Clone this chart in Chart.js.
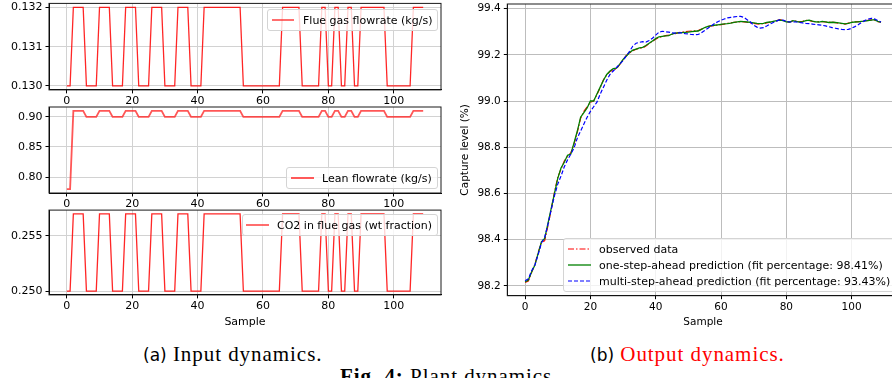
<!DOCTYPE html>
<html>
<head>
<meta charset="utf-8">
<script src="https://cdn.jsdelivr.net/npm/chart.js@4.4.1/dist/chart.umd.min.js"></script>
<style>
  body { margin: 0; width: 892px; height: 378px; overflow: hidden; position: relative; background: #fff; font-family: "DejaVu Sans", sans-serif; }
  .box { position: absolute; }
  .leg { position: absolute; background: rgba(255,255,255,0.8); border: 1px solid #d4d4d4; border-radius: 3px; color: #000; white-space: nowrap; }
  .leg .row { display: flex; align-items: center; height: 16px; }
  .leg svg { flex: none; }
  .cap { position: absolute; font-family: "Liberation Serif", serif; font-size: 21px; letter-spacing: 0.95px; white-space: nowrap; }
  .cap .lab { font-family: "DejaVu Sans", sans-serif; font-size: 17px; letter-spacing: 0; }
</style>
</head>
<body>
<div class="box" style="left:0;top:0;width:450px;height:110px"><canvas id="c1"></canvas></div>
<div class="box" style="left:0;top:100px;width:450px;height:110px"><canvas id="c2"></canvas></div>
<div class="box" style="left:0;top:200px;width:450px;height:130px"><canvas id="c3"></canvas></div>
<div class="box" style="left:450px;top:0;width:460px;height:330px"><canvas id="c4"></canvas></div>

<div class="leg" style="left:267px;top:9px;padding:1px 5px 1px 4px;font-size:11px">
  <div class="row" style="height:18px"><svg width="22" height="10" style="margin-right:9px"><line x1="0" y1="5" x2="22" y2="5" stroke="#ff2020" stroke-width="1.3"/></svg>Flue gas flowrate (kg/s)</div>
</div>
<div class="leg" style="left:286px;top:167px;padding:1px 5px 1px 4px;font-size:11px">
  <div class="row" style="height:18px"><svg width="23" height="10" style="margin-right:8px"><line x1="0" y1="5" x2="23" y2="5" stroke="#ff4848" stroke-width="1.8"/></svg>Lean flowrate (kg/s)</div>
</div>
<div class="leg" style="left:242px;top:214px;padding:1px 5px 1px 3px;font-size:11px">
  <div class="row" style="height:18px"><svg width="23" height="10" style="margin-right:8px"><line x1="0" y1="5" x2="23" y2="5" stroke="#ff2020" stroke-width="1.3"/></svg>CO2 in flue gas (wt fraction)</div>
</div>
<div class="leg" style="left:563px;top:238px;padding:2px 6px 2px 4px;font-size:11px">
  <div class="row"><svg width="23" height="10" style="margin-right:8px"><line x1="0" y1="5" x2="23" y2="5" stroke="#ff0000" stroke-width="1.2" stroke-dasharray="6 2 1.5 2"/></svg>observed data</div>
  <div class="row"><svg width="23" height="10" style="margin-right:8px"><line x1="0" y1="5" x2="23" y2="5" stroke="#008000" stroke-width="1.3"/></svg>one-step-ahead prediction (fit percentage: 98.41%)</div>
  <div class="row"><svg width="23" height="10" style="margin-right:8px"><line x1="0" y1="5" x2="23" y2="5" stroke="#0000ff" stroke-width="1.2" stroke-dasharray="4 2"/></svg>multi-step-ahead prediction (fit percentage: 93.43%)</div>
</div>

<div class="cap" style="left:143px;top:342px"><span class="lab">(a)</span> Input dynamics.</div>
<div class="cap" style="left:590px;top:342px"><span class="lab">(b)</span> <span style="color:#ff0000">Output dynamics.</span></div>
<div class="cap" style="left:340px;top:364px"><b>Fig. 4:</b> Plant dynamics</div>

<script>
// sample index (x axis)
const samples = Array.from({ length: 110 }, (_, i) => i);

// input signals
const flueGas = [
  0.130, 0.130, 0.132, 0.132, 0.132, 0.132, 0.130, 0.130, 0.130, 0.130,
  0.132, 0.132, 0.132, 0.132, 0.130, 0.130, 0.130, 0.130, 0.132, 0.132,
  0.132, 0.132, 0.130, 0.130, 0.130, 0.130, 0.132, 0.132, 0.132, 0.132,
  0.130, 0.130, 0.130, 0.130, 0.132, 0.132, 0.132, 0.132, 0.130, 0.130,
  0.130, 0.130, 0.132, 0.132, 0.132, 0.132, 0.132, 0.132, 0.132, 0.132,
  0.132, 0.132, 0.132, 0.132, 0.130, 0.130, 0.130, 0.130, 0.130, 0.130,
  0.130, 0.130, 0.130, 0.130, 0.130, 0.130, 0.132, 0.132, 0.132, 0.132,
  0.132, 0.132, 0.130, 0.130, 0.130, 0.130, 0.130, 0.130, 0.132, 0.132,
  0.130, 0.130, 0.132, 0.132, 0.130, 0.130, 0.132, 0.132, 0.130, 0.130,
  0.132, 0.132, 0.132, 0.132, 0.132, 0.132, 0.132, 0.132, 0.130, 0.130,
  0.130, 0.130, 0.130, 0.130, 0.130, 0.130, 0.132, 0.132, 0.132, 0.132
];
const leanFlow = [
  0.78, 0.78, 0.91, 0.91, 0.91, 0.91, 0.90, 0.90, 0.90, 0.90,
  0.91, 0.91, 0.91, 0.91, 0.90, 0.90, 0.90, 0.90, 0.91, 0.91,
  0.91, 0.91, 0.90, 0.90, 0.90, 0.90, 0.91, 0.91, 0.91, 0.91,
  0.90, 0.90, 0.90, 0.90, 0.91, 0.91, 0.91, 0.91, 0.90, 0.90,
  0.90, 0.90, 0.91, 0.91, 0.91, 0.91, 0.91, 0.91, 0.91, 0.91,
  0.91, 0.91, 0.91, 0.91, 0.90, 0.90, 0.90, 0.90, 0.90, 0.90,
  0.90, 0.90, 0.90, 0.90, 0.90, 0.90, 0.91, 0.91, 0.91, 0.91,
  0.91, 0.91, 0.90, 0.90, 0.90, 0.90, 0.90, 0.90, 0.91, 0.91,
  0.90, 0.90, 0.91, 0.91, 0.90, 0.90, 0.91, 0.91, 0.90, 0.90,
  0.91, 0.91, 0.91, 0.91, 0.91, 0.91, 0.91, 0.91, 0.90, 0.90,
  0.90, 0.90, 0.90, 0.90, 0.90, 0.90, 0.91, 0.91, 0.91, 0.91
];
const co2Frac = [
  0.250, 0.250, 0.257, 0.257, 0.257, 0.257, 0.250, 0.250, 0.250, 0.250,
  0.257, 0.257, 0.257, 0.257, 0.250, 0.250, 0.250, 0.250, 0.257, 0.257,
  0.257, 0.257, 0.250, 0.250, 0.250, 0.250, 0.257, 0.257, 0.257, 0.257,
  0.250, 0.250, 0.250, 0.250, 0.257, 0.257, 0.257, 0.257, 0.250, 0.250,
  0.250, 0.250, 0.257, 0.257, 0.257, 0.257, 0.257, 0.257, 0.257, 0.257,
  0.257, 0.257, 0.257, 0.257, 0.250, 0.250, 0.250, 0.250, 0.250, 0.250,
  0.250, 0.250, 0.250, 0.250, 0.250, 0.250, 0.257, 0.257, 0.257, 0.257,
  0.257, 0.257, 0.250, 0.250, 0.250, 0.250, 0.250, 0.250, 0.257, 0.257,
  0.250, 0.250, 0.257, 0.257, 0.250, 0.250, 0.257, 0.257, 0.250, 0.250,
  0.257, 0.257, 0.257, 0.257, 0.257, 0.257, 0.257, 0.257, 0.250, 0.250,
  0.250, 0.250, 0.250, 0.250, 0.250, 0.250, 0.257, 0.257, 0.257, 0.257
];

// capture level (%)
const observed = [
  98.214, 98.220, 98.258, 98.292, 98.345, 98.385, 98.395, 98.460, 98.530, 98.605,
  98.670, 98.705, 98.740, 98.760, 98.775, 98.815, 98.865, 98.925, 98.955, 98.975,
  98.995, 99.000, 99.028, 99.058, 99.092, 99.112, 99.128, 99.135, 99.140, 99.158,
  99.178, 99.197, 99.208, 99.218, 99.224, 99.228, 99.230, 99.238, 99.249, 99.258,
  99.268, 99.276, 99.279, 99.283, 99.285, 99.289, 99.292, 99.296, 99.298, 99.300,
  99.302, 99.303, 99.304, 99.305, 99.311, 99.317, 99.322, 99.325, 99.327, 99.329,
  99.331, 99.333, 99.336, 99.338, 99.341, 99.342, 99.344, 99.343, 99.341, 99.338,
  99.336, 99.334, 99.333, 99.335, 99.338, 99.341, 99.344, 99.347, 99.352, 99.350,
  99.344, 99.341, 99.347, 99.346, 99.343, 99.345, 99.349, 99.348, 99.345, 99.344,
  99.343, 99.344, 99.342, 99.341, 99.342, 99.339, 99.337, 99.335, 99.333, 99.337,
  99.341, 99.343, 99.344, 99.344, 99.347, 99.349, 99.351, 99.350, 99.344, 99.341
];
const oneStep = [
  98.217, 98.225, 98.260, 98.290, 98.340, 98.390, 98.405, 98.470, 98.535, 98.600,
  98.665, 98.710, 98.735, 98.765, 98.770, 98.820, 98.870, 98.930, 98.950, 98.970,
  99.000, 99.000, 99.030, 99.060, 99.090, 99.115, 99.130, 99.140, 99.142, 99.160,
  99.180, 99.195, 99.210, 99.220, 99.225, 99.230, 99.232, 99.240, 99.250, 99.260,
  99.270, 99.278, 99.280, 99.282, 99.283, 99.290, 99.294, 99.295, 99.296, 99.297,
  99.298, 99.300, 99.302, 99.303, 99.310, 99.318, 99.323, 99.326, 99.328, 99.330,
  99.332, 99.334, 99.335, 99.337, 99.340, 99.343, 99.345, 99.344, 99.342, 99.340,
  99.338, 99.336, 99.335, 99.336, 99.340, 99.342, 99.345, 99.348, 99.350, 99.348,
  99.343, 99.342, 99.348, 99.345, 99.342, 99.344, 99.348, 99.350, 99.346, 99.343,
  99.342, 99.345, 99.343, 99.340, 99.341, 99.340, 99.338, 99.336, 99.334, 99.336,
  99.340, 99.342, 99.343, 99.345, 99.346, 99.348, 99.350, 99.352, 99.345, 99.342
];
const multiStep = [
  98.222, 98.230, 98.265, 98.290, 98.335, 98.385, 98.410, 98.465, 98.530, 98.590,
  98.640, 98.675, 98.715, 98.745, 98.770, 98.797, 98.840, 98.870, 98.900, 98.930,
  98.955, 98.975, 98.995, 99.030, 99.060, 99.090, 99.115, 99.130, 99.145, 99.160,
  99.175, 99.196, 99.215, 99.238, 99.250, 99.254, 99.257, 99.255, 99.262, 99.272,
  99.285, 99.298, 99.302, 99.300, 99.298, 99.295, 99.294, 99.295, 99.295, 99.292,
  99.290, 99.288, 99.287, 99.288, 99.295, 99.305, 99.315, 99.325, 99.335, 99.343,
  99.350, 99.355, 99.360, 99.362, 99.364, 99.366, 99.366, 99.362, 99.352, 99.342,
  99.328, 99.320, 99.316, 99.318, 99.325, 99.333, 99.340, 99.346, 99.352, 99.350,
  99.345, 99.342, 99.343, 99.342, 99.340, 99.338, 99.336, 99.335, 99.333, 99.331,
  99.330, 99.328, 99.325, 99.322, 99.318, 99.315, 99.312, 99.310, 99.309, 99.310,
  99.315, 99.322, 99.330, 99.340, 99.348, 99.354, 99.358, 99.356, 99.348, 99.342
];

// tick labels
const sampleTicks = [0, 20, 40, 60, 80, 100];
const flueTicks = [0.130, 0.131, 0.132];
const leanTicks = [0.80, 0.85, 0.90];
const co2Ticks = [0.250, 0.255];
const captureTicks = [98.2, 98.4, 98.6, 98.8, 99.0, 99.2, 99.4];

// draw the box round the plot area like matplotlib spines
const frame = {
  id: 'frame',
  afterDraw(chart) {
    const a = chart.chartArea, c = chart.ctx;
    c.save();
    c.strokeStyle = '#1a1a1a';
    c.lineWidth = 1;
    c.strokeRect(a.left, a.top, a.right - a.left, a.bottom - a.top);
    c.restore();
  }
};

function xAxis(height, fontSize, gridColor, title) {
  return {
    type: 'linear', min: -5.45, max: 114.45,
    afterBuildTicks: s => { s.ticks = sampleTicks.map(v => ({ value: v })); },
    afterFit: s => { s.height = height; s.paddingLeft = 0; s.paddingRight = 0; },
    grid: { color: gridColor, lineWidth: 1, tickLength: 3.5, tickColor: '#000', tickWidth: 1 },
    border: { color: '#000', width: 1 },
    ticks: { color: '#000', autoSkip: false, maxRotation: 0, padding: 1.5, font: { family: 'DejaVu Sans', size: fontSize }, callback: v => String(v) },
    title: { display: !!title, text: title || '', color: '#000', padding: { top: 0, bottom: 1 }, font: { family: 'DejaVu Sans', size: fontSize } }
  };
}

function yAxis(width, min, max, ticks, digits, fontSize, gridColor, title) {
  return {
    type: 'linear', min: min, max: max,
    afterBuildTicks: s => { s.ticks = ticks.map(v => ({ value: v })); },
    afterFit: s => { s.width = width; s.paddingTop = 0; s.paddingBottom = 0; },
    grid: { color: gridColor, lineWidth: 1, tickLength: 3.5, tickColor: '#000', tickWidth: 1 },
    border: { color: '#000', width: 1 },
    ticks: { color: '#000', autoSkip: false, padding: 3, font: { family: 'DejaVu Sans', size: fontSize }, callback: v => Number(v).toFixed(digits) },
    title: { display: !!title, text: title || '', color: '#000', padding: { top: 8.5, bottom: 0 }, font: { family: 'DejaVu Sans', size: fontSize } }
  };
}

function line(values, color, width, dash, order) {
  return {
    data: samples.map((s, i) => ({ x: s, y: values[i] })),
    borderColor: color, borderWidth: width, borderDash: dash || [],
    pointRadius: 0, tension: 0, fill: false, order: order || 0
  };
}

function makeChart(id, datasets, scales, padding) {
  return new Chart(document.getElementById(id), {
    type: 'line',
    data: { datasets: datasets },
    options: {
      animation: false,
      responsive: true,
      maintainAspectRatio: false,
      layout: { padding: padding },
      plugins: { legend: { display: false }, tooltip: { enabled: false } },
      scales: scales
    },
    plugins: [frame]
  });
}

const leftGrid = '#d2d2d2';
const rightGrid = '#bdbdbd';

makeChart('c1', [line(flueGas, 'rgba(255,0,0,0.85)', 1.3)], {
  x: xAxis(20.1, 11, leftGrid),
  y: yAxis(49, 0.1299, 0.1321, flueTicks, 3, 11, leftGrid)
}, { top: 3.4, right: 9, left: 0, bottom: 0 });

makeChart('c2', [line(leanFlow, 'rgba(255,30,30,0.75)', 1.8)], {
  x: xAxis(17, 11, leftGrid),
  y: yAxis(49, 0.7735, 0.9165, leanTicks, 2, 11, leftGrid)
}, { top: 7, right: 9, left: 0, bottom: 0 });

makeChart('c3', [line(co2Frac, 'rgba(255,0,0,0.85)', 1.3)], {
  x: xAxis(35.1, 11, leftGrid, 'Sample'),
  y: yAxis(49, 0.24965, 0.25735, co2Ticks, 3, 11, leftGrid)
}, { top: 10.1, right: 9, left: 0, bottom: 0 });

makeChart('c4', [
  line(observed, '#ff0000', 1.2, [6, 2, 1.5, 2], 2),
  line(oneStep, '#008000', 1.3, [], 1),
  line(multiStep, '#0000ff', 1.2, [4, 2], 0)
], {
  x: xAxis(34.3, 10.5, rightGrid, 'Sample'),
  y: yAxis(57.3, 98.157, 99.42, captureTicks, 1, 10.5, rightGrid, 'Capture level (%)')
}, { top: 4, right: 11.2, left: 0, bottom: 0 });
</script>
</body>
</html>
